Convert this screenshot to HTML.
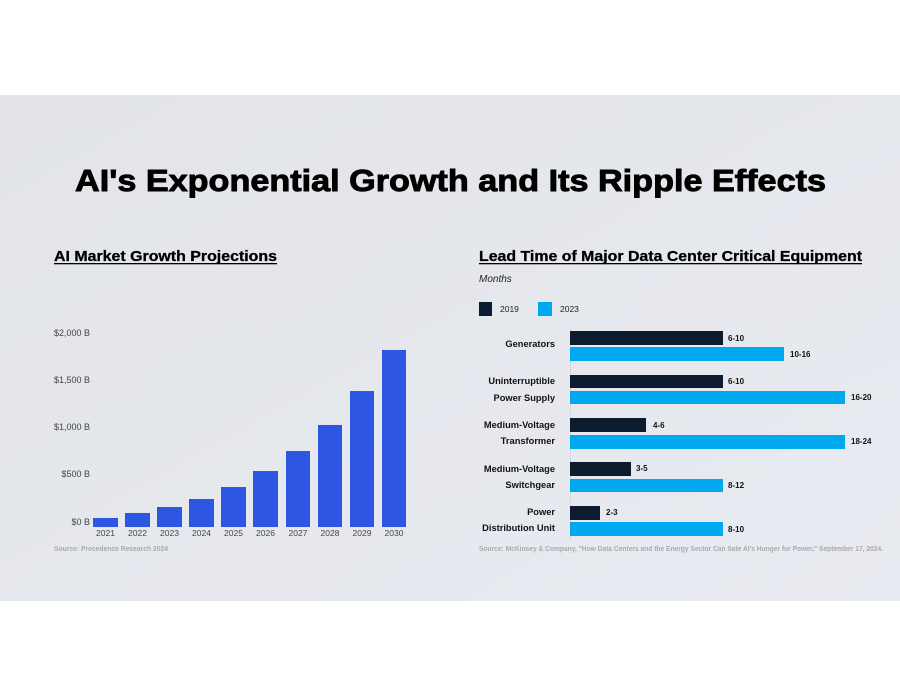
<!DOCTYPE html>
<html><head><meta charset="utf-8"><style>
html,body{margin:0;padding:0;background:#fff;}
svg{display:block;}
text{font-family:"Liberation Sans",sans-serif;}
</style></head><body>
<svg width="900" height="695" viewBox="0 0 900 695" xmlns="http://www.w3.org/2000/svg">
<rect x="0" y="0" width="900" height="695" fill="#ffffff"/>
<defs><linearGradient id="bg" x1="0" y1="0" x2="1" y2="1">
<stop offset="0" stop-color="#e2e4e9"/><stop offset="1" stop-color="#e8ebf1"/></linearGradient></defs>
<rect x="0" y="95" width="900" height="506" fill="url(#bg)"/>
<text x="75" y="191" font-size="31" font-weight="bold" fill="#000" stroke="#000" stroke-width="0.9" textLength="751" lengthAdjust="spacingAndGlyphs">AI's Exponential Growth and Its Ripple Effects</text>

<!-- left chart -->
<text x="54" y="261" font-size="15" font-weight="bold" fill="#000" stroke="#000" stroke-width="0.3" textLength="223" lengthAdjust="spacingAndGlyphs">AI Market Growth Projections</text>
<rect x="54" y="263" width="223" height="1.3" fill="#000"/>
<g font-size="9" fill="#444" text-anchor="end">
<text x="90" y="336">$2,000 B</text>
<text x="90" y="383">$1,500 B</text>
<text x="90" y="430">$1,000 B</text>
<text x="90" y="477">$500 B</text>
<text x="90" y="525">$0 B</text>
</g>
<g fill="#2d57e0">
<rect x="93" y="518" width="25" height="9"/>
<rect x="125" y="513" width="25" height="14"/>
<rect x="157" y="507" width="25" height="20"/>
<rect x="189" y="499" width="25" height="28"/>
<rect x="221" y="487" width="25" height="40"/>
<rect x="253" y="471" width="25" height="56"/>
<rect x="286" y="451" width="24" height="76"/>
<rect x="318" y="425" width="24" height="102"/>
<rect x="350" y="391" width="24" height="136"/>
<rect x="382" y="350" width="24" height="177"/>
</g>
<g font-size="8.5" fill="#444" text-anchor="middle">
<text x="105.5" y="536">2021</text><text x="137.5" y="536">2022</text><text x="169.5" y="536">2023</text>
<text x="201.5" y="536">2024</text><text x="233.5" y="536">2025</text><text x="265.5" y="536">2026</text>
<text x="298" y="536">2027</text><text x="330" y="536">2028</text><text x="362" y="536">2029</text><text x="394" y="536">2030</text>
</g>
<text x="54" y="551" font-size="7.5" font-weight="bold" fill="#aaaaaa" textLength="114" lengthAdjust="spacingAndGlyphs">Source: Precedence Research 2024</text>

<!-- right chart -->
<text x="479" y="261" font-size="15" font-weight="bold" fill="#000" stroke="#000" stroke-width="0.3" textLength="383" lengthAdjust="spacingAndGlyphs">Lead Time of Major Data Center Critical Equipment</text>
<rect x="479" y="263" width="383" height="1.3" fill="#000"/>
<text x="479" y="282" font-size="10" font-style="italic" fill="#222">Months</text>
<rect x="479" y="302" width="13" height="14" fill="#0d1b2e"/>
<text x="500" y="312" font-size="8.5" fill="#222">2019</text>
<rect x="538" y="302" width="14" height="14" fill="#00a8f0"/>
<text x="560" y="312" font-size="8.5" fill="#222">2023</text>
<rect x="570" y="328" width="0.8" height="211" fill="#cfd3da"/>
<g fill="#0d1b2e">
<rect x="570" y="331" width="153" height="14"/>
<rect x="570" y="375" width="153" height="13"/>
<rect x="570" y="418" width="76" height="14"/>
<rect x="570" y="462" width="61" height="14"/>
<rect x="570" y="506" width="30" height="14"/>
</g>
<g fill="#00a8f0">
<rect x="570" y="347" width="214" height="14"/>
<rect x="570" y="391" width="275" height="13"/>
<rect x="570" y="435" width="275" height="14"/>
<rect x="570" y="479" width="153" height="13"/>
<rect x="570" y="522" width="153" height="14"/>
</g>
<g font-size="8" font-weight="bold" fill="#111">
<text x="728" y="341">6-10</text><text x="790" y="357">10-16</text>
<text x="728" y="384">6-10</text><text x="851" y="400">16-20</text>
<text x="653" y="428">4-6</text><text x="851" y="444">18-24</text>
<text x="636" y="471">3-5</text><text x="728" y="488">8-12</text>
<text x="606" y="515">2-3</text><text x="728" y="532">8-10</text>
</g>
<g font-size="9.3" font-weight="bold" fill="#111" text-anchor="end">
<text x="555" y="347">Generators</text>
<text x="555" y="384">Uninterruptible</text><text x="555" y="401">Power Supply</text>
<text x="555" y="428">Medium-Voltage</text><text x="555" y="444">Transformer</text>
<text x="555" y="472">Medium-Voltage</text><text x="555" y="488">Switchgear</text>
<text x="555" y="515">Power</text><text x="555" y="531">Distribution Unit</text>
</g>
<text x="479" y="551" font-size="7.5" font-weight="bold" fill="#aaaaaa" textLength="404" lengthAdjust="spacingAndGlyphs">Source: McKinsey &amp; Company, "How Data Centers and the Energy Sector Can Sate AI's Hunger for Power," September 17, 2024.</text>
</svg>
</body></html>
